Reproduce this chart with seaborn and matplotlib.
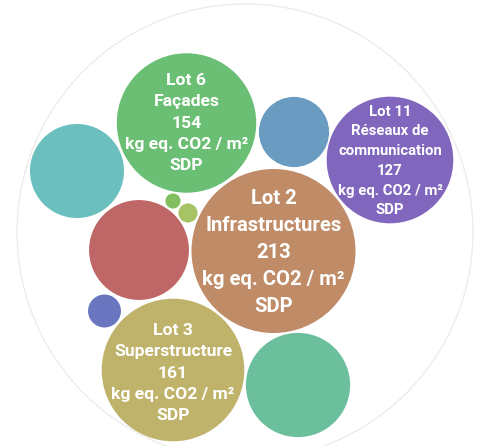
import matplotlib
matplotlib.use("Agg")
import matplotlib.pyplot as plt
from matplotlib.patches import Circle
import seaborn as sns
import numpy as np
import pandas as pd

# -- data: one bubble per lot, area ~ kg eq. CO2 / m2 SDP ---------------------
lots   = ['Lot 2', 'Lot 3', 'Lot 6', 'Lot 11', 'red', 'teal', 'sea',
          'steel', 'navy', 'lime', 'olive_s']
values = [213, 161, 154, 127, 79, 70, 86, 39, 8.6, 1.8, 2.9]
titles = ['Infrastructures', 'Superstructure', 'Façades',
          'Réseaux de\ncommunication', None, None, None, None, None, None, None]
colors = ['#c08b67', '#bfb36b', '#6bbf75', '#8066bd', '#bf6767', '#6bbfbf',
          '#6bbf9c', '#6a9bc0', '#6a76c0', '#82bf60', '#a6c466']

# -- layout (pixel space, y down) ---------------------------------------------
cx = [273.5, 173, 186.5, 390, 139, 77, 298, 294, 104.5, 173, 188]
cy = [251, 370, 123, 160, 250, 171, 385, 132, 311, 201, 213]
text_dy = {'Lot 2': 1.5, 'Lot 3': 3, 'Lot 6': 0, 'Lot 11': 1}
font_sz = {'Lot 2': 14.6, 'Lot 3': 12.6, 'Lot 6': 12.6, 'Lot 11': 10.7}

W, H, DPI = 479, 446, 100
k = 82 / np.sqrt(213)   # px radius per sqrt(value)

df = pd.DataFrame({'lot': lots, 'value': values, 'x': cx, 'y': cy})
df['r'] = k * np.sqrt(df['value'])
df['s'] = (2 * df['r'] * 72 / DPI) ** 2   # marker area in pt^2

sns.set_theme(style='white')
plt.rcParams['font.family'] = ['Roboto', 'DejaVu Sans']

fig = plt.figure(figsize=(W / DPI, H / DPI), dpi=DPI)
ax = fig.add_axes([0, 0, 1, 1])
ax.set_xlim(0, W)
ax.set_ylim(H, 0)
ax.set_aspect('equal')
ax.axis('off')

# faint enclosing circle
ax.add_patch(Circle((245, 232), 228, facecolor='none', edgecolor='#ececec', lw=1.0))

sns.scatterplot(data=df, x='x', y='y', hue='lot', palette=colors,
                s=df['s'].values, linewidth=0, alpha=1, legend=False, ax=ax)

for i, lot in enumerate(lots):
    if titles[i] is None:
        continue
    label = f"{lot}\n{titles[i]}\n{values[i]:.0f}\nkg eq. CO2 / m²\nSDP"
    ax.text(cx[i], cy[i] + text_dy[lot], label, ha='center', va='center',
            color='white', fontsize=font_sz[lot], fontweight='bold',
            linespacing=1.52)

fig.savefig('out.png', dpi=DPI)
